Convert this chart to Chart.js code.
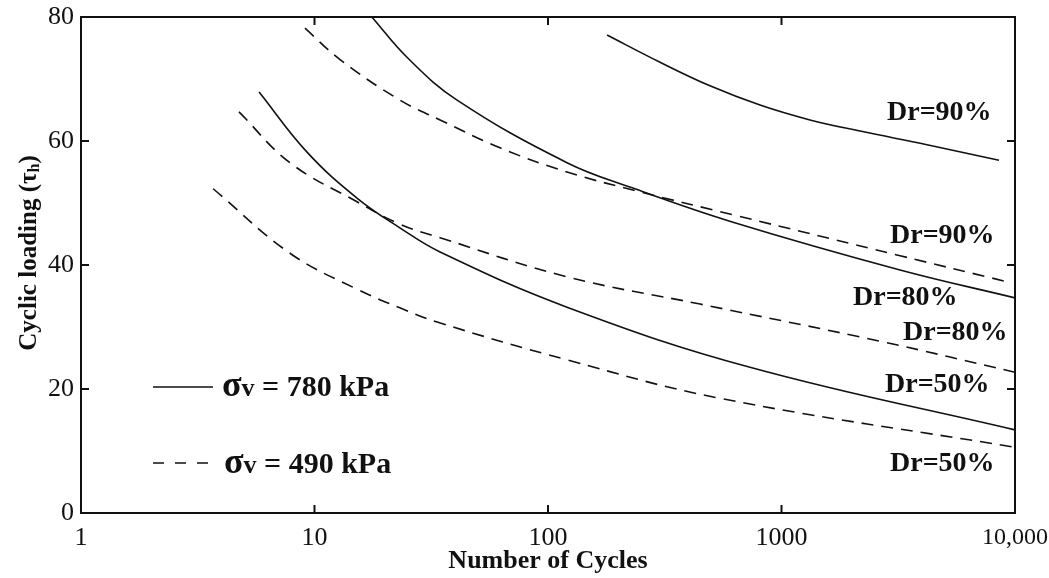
<!DOCTYPE html>
<html>
<head>
<meta charset="utf-8">
<script src="https://cdn.jsdelivr.net/npm/chart.js@4.4.1/dist/chart.umd.min.js"></script>
<style>
  html, body { margin: 0; padding: 0; background: #fff; }
  #wrap { width: 1049px; height: 578px; }
</style>
</head>
<body>
<div id="wrap"><canvas id="chart" width="1049" height="578"></canvas></div>
<script>
// --- Données ---
const xTicks = [1, 10, 100, 1000, 10000];
const xTickLabels = ["1", "10", "100", "1000", "10,000"];
const yTicks = [0, 20, 40, 60, 80];

// sigma_v = 780 kPa (trait plein)
const cyclesS90 = [179, 302, 494, 809, 1324, 2169, 4200, 8541];
const loadS90 = [77.1, 72.7, 68.9, 65.8, 63.4, 61.6, 59.4, 56.9];
const cyclesS80 = [17.6, 24.9, 40.8, 120.6, 231, 620, 3218, 10000];
const loadS80 = [80, 73.5, 66.6, 56.5, 52.4, 46.9, 39.2, 34.7];
const cyclesS50 = [5.79, 9.29, 15.2, 23.2, 34.5, 120.6, 733, 10000];
const loadS50 = [67.9, 58.2, 50.8, 46.0, 42.1, 33.2, 23.5, 13.4];

// sigma_v = 490 kPa (tirets)
const cyclesD90 = [9.1, 12.9, 23.2, 34.5, 62.3, 120.6, 247.7, 620, 3218, 9242];
const loadD90 = [78.2, 73.1, 66.6, 63.4, 58.9, 55.0, 51.8, 48.1, 41.5, 37.3];
const cyclesD80 = [4.75, 7.85, 15.2, 23.2, 34.5, 120.6, 447.7, 2720, 10000];
const loadD80 = [64.7, 56.5, 50.2, 46.6, 44.4, 38.1, 33.7, 27.6, 22.7];
const cyclesD50 = [3.68, 7.85, 15.2, 23.2, 33.5, 120.6, 545, 10000];
const loadD50 = [52.3, 41.9, 36.1, 33.1, 30.8, 24.7, 18.5, 10.6];

const curveLabels = [
  { text: "Dr=90%", x: 887, y: 120 },
  { text: "Dr=90%", x: 890, y: 243 },
  { text: "Dr=80%", x: 853, y: 305 },
  { text: "Dr=80%", x: 903, y: 340 },
  { text: "Dr=50%", x: 885, y: 392 },
  { text: "Dr=50%", x: 890, y: 471 },
];

const SERIF = "'Liberation Serif', 'DejaVu Serif', serif";
const INK = "#111";

function pts(xs, ys) {
  return xs.map((x, i) => ({ x, y: ys[i] }));
}

function curve(xs, ys, dashed) {
  return {
    data: pts(xs, ys),
    borderColor: INK,
    borderWidth: 1.6,
    borderDash: dashed ? [12, 8] : [],
    pointRadius: 0,
    fill: false,
    tension: 0.4,
  };
}

// --- Cadre + graduations intérieures ---
const framePlugin = {
  id: "frame",
  afterDraw(chart) {
    const { ctx, chartArea: a, scales } = chart;
    ctx.save();
    ctx.strokeStyle = INK;
    ctx.lineWidth = 2;
    ctx.setLineDash([]);
    ctx.strokeRect(a.left, a.top, a.right - a.left, a.bottom - a.top);
    const len = 8;
    ctx.beginPath();
    xTicks.slice(1, -1).forEach((v) => {
      const px = scales.x.getPixelForValue(v);
      ctx.moveTo(px, a.bottom); ctx.lineTo(px, a.bottom - len);
      ctx.moveTo(px, a.top); ctx.lineTo(px, a.top + len);
    });
    yTicks.slice(1, -1).forEach((v) => {
      const py = scales.y.getPixelForValue(v);
      ctx.moveTo(a.left, py); ctx.lineTo(a.left + len, py);
      ctx.moveTo(a.right, py); ctx.lineTo(a.right - len, py);
    });
    ctx.stroke();
    ctx.restore();
  },
};

// petit utilitaire : texte en morceaux de tailles différentes
function drawParts(ctx, parts, x, y) {
  parts.forEach((p) => {
    ctx.font = `bold ${p.size}px ${SERIF}`;
    ctx.fillText(p.t, x, y + (p.dy || 0));
    x += ctx.measureText(p.t).width;
  });
}

// --- Textes : étiquettes Dr, légende, titre vertical ---
const textPlugin = {
  id: "texts",
  afterDraw(chart) {
    const ctx = chart.ctx;
    ctx.save();
    ctx.fillStyle = INK;
    ctx.textBaseline = "alphabetic";
    ctx.textAlign = "left";
    ctx.font = `bold 28px ${SERIF}`;
    curveLabels.forEach((l) => ctx.fillText(l.text, l.x, l.y));

    // légende
    ctx.strokeStyle = INK;
    ctx.lineWidth = 1.6;
    ctx.beginPath();
    ctx.moveTo(153, 387); ctx.lineTo(213, 387);
    ctx.stroke();
    ctx.setLineDash([11, 11]);
    ctx.beginPath();
    ctx.moveTo(153, 463); ctx.lineTo(213, 463);
    ctx.stroke();
    ctx.setLineDash([]);
    drawParts(ctx, [{ t: "σ", size: 36 }, { t: "v", size: 26 }, { t: " = 780 kPa", size: 30 }], 222, 396);
    drawParts(ctx, [{ t: "σ", size: 36 }, { t: "v", size: 26 }, { t: " = 490 kPa", size: 30 }], 224, 473);

    // titre axe Y
    ctx.translate(36, 253);
    ctx.rotate(-Math.PI / 2);
    const parts = [{ t: "Cyclic loading (τ", size: 25 }, { t: "h", size: 16, dy: 3 }, { t: ")", size: 25 }];
    let total = 0;
    parts.forEach((p) => { ctx.font = `bold ${p.size}px ${SERIF}`; total += ctx.measureText(p.t).width; });
    drawParts(ctx, parts, -total / 2, 0);
    ctx.restore();
  },
};

new Chart(document.getElementById("chart"), {
  type: "line",
  data: {
    datasets: [
      curve(cyclesS90, loadS90, false),
      curve(cyclesS80, loadS80, false),
      curve(cyclesS50, loadS50, false),
      curve(cyclesD90, loadD90, true),
      curve(cyclesD80, loadD80, true),
      curve(cyclesD50, loadD50, true),
    ],
  },
  options: {
    responsive: false,
    animation: false,
    layout: { padding: { top: 17, right: 34, left: 0, bottom: 0 } },
    plugins: { legend: { display: false }, tooltip: { enabled: false } },
    scales: {
      x: {
        type: "logarithmic",
        min: 1,
        max: 10000,
        afterBuildTicks: (s) => { s.ticks = xTicks.map((v) => ({ value: v })); },
        afterFit: (s) => { s.height = 65; s.paddingLeft = 0; s.paddingRight = 0; },
        grid: { display: false, drawTicks: false },
        border: { display: false },
        ticks: {
          color: INK,
          padding: 10,
          maxRotation: 0,
          autoSkip: false,
          font: (c) => ({ family: SERIF, size: c.index === 4 ? 24 : 26 }),
          callback: (v, i) => xTickLabels[i],
        },
        title: {
          display: true,
          text: "Number of Cycles",
          color: INK,
          font: { family: SERIF, size: 26, weight: "bold" },
          padding: { top: 0, bottom: 1 },
        },
      },
      y: {
        min: 0,
        max: 80,
        afterBuildTicks: (s) => { s.ticks = yTicks.map((v) => ({ value: v })); },
        afterFit: (s) => { s.width = 81; s.paddingTop = 0; s.paddingBottom = 0; },
        grid: { display: false, drawTicks: false },
        border: { display: false },
        ticks: {
          color: INK,
          padding: 7,
          font: { family: SERIF, size: 26 },
        },
      },
    },
  },
  plugins: [framePlugin, textPlugin],
});
</script>
</body>
</html>
